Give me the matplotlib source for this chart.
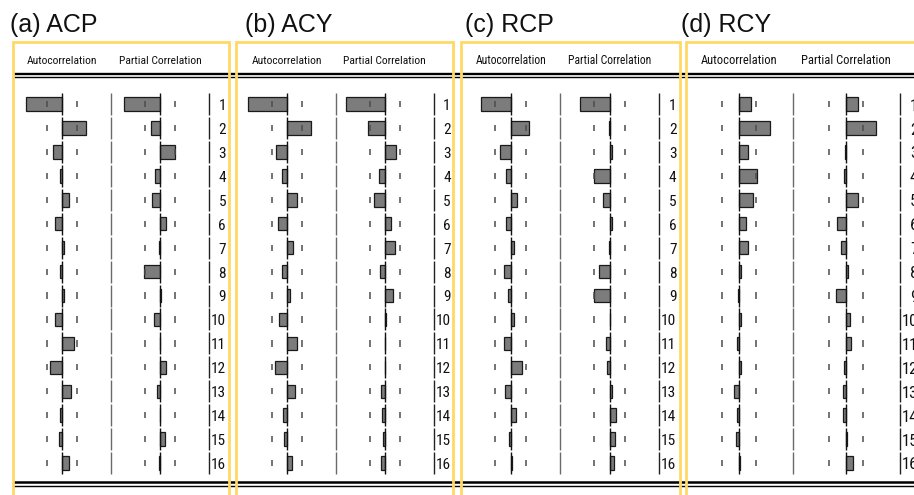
import numpy as np
import matplotlib
matplotlib.use("Agg")
import matplotlib.pyplot as plt
from matplotlib import font_manager as fm

# ---- data: correlograms (lags 1..16) ----
lags = np.arange(1, 17)
n_obs = 42
bound = 2 / np.sqrt(n_obs)

titles = ["(a) ACP", "(b) ACY", "(c) RCP", "(d) RCY"]

acf_acp = [-0.73, 0.49, -0.19, -0.05, 0.15, -0.14, 0.05, -0.04,
           0.05, -0.14, 0.24, -0.24, 0.18, -0.04, -0.07, 0.15]
pacf_acp = [-0.73, -0.19, 0.30, -0.11, -0.16, 0.12, -0.02, -0.32,
            0.02, -0.13, 0.01, 0.13, -0.06, -0.01, 0.10, -0.02]

acf_acy = [-0.80, 0.49, -0.21, -0.10, 0.20, -0.18, 0.13, -0.09,
           0.07, -0.15, 0.20, -0.24, 0.16, -0.08, -0.05, 0.10]
pacf_acy = [-0.79, -0.35, 0.24, -0.11, -0.21, 0.12, 0.20, -0.09,
            0.16, 0.03, 0.01, 0.01, -0.07, -0.05, -0.04, -0.08]

acf_rcp = [-0.61, 0.36, -0.21, -0.09, 0.12, -0.09, 0.07, -0.13,
           -0.05, 0.07, -0.13, 0.22, -0.11, 0.10, -0.03, 0.02]
pacf_rcp = [-0.61, -0.02, 0.05, -0.32, -0.13, 0.05, -0.01, -0.22,
            -0.31, 0.01, -0.07, -0.05, 0.05, 0.13, 0.11, 0.09]

acf_rcy = [0.22, 0.585, 0.17, 0.34, 0.26, 0.13, 0.17, 0.03,
           -0.01, 0.04, -0.04, 0.04, -0.09, -0.04, -0.06, 0.01]
pacf_rcy = [0.22, 0.57, -0.02, -0.04, 0.22, -0.16, -0.09, 0.03,
            -0.19, 0.07, 0.09, -0.04, -0.06, -0.06, 0.01, 0.14]

acf_sets = [acf_acp, acf_acy, acf_rcp, acf_rcy]
pacf_sets = [pacf_acp, pacf_acy, pacf_rcp, pacf_rcy]

col_headers = ["Autocorrelation", "Partial Correlation"]

# ---- layout (pixels) ----
W, H = 914, 495
col_left = [13.0, 237.7, 461.2, 685.5]     # left edge of the ACF column
col_pitch = [98.0, 98.0, 99.0, 107.0]      # width of one column
box_left = [12.8, 235.5, 461.0, 685.5]
box_right = [229.0, 453.0, 680.0, None]
title_x = [10.0, 245.0, 465.0, 681.0]
box_top = 42.0
row_top, row_bottom = 92.2, 475.0

YELLOW = "#FFD966"
BAR = "#7c7c7c"


# pick a narrow sans face for the table text, if one is installed
def pick_narrow():
    entries = fm.fontManager.ttflist
    names = {f.name for f in entries}
    for nm in ("Liberation Sans Narrow", "Arial Narrow", "Roboto Condensed",
               "Open Sans Condensed", "Noto Sans Condensed"):
        if nm in names:
            return dict(family=nm)
    for f in entries:
        if (f.stretch in ("condensed", "semi-condensed") and f.style == "normal"
                and "Mono" not in f.name and "Serif" not in f.name):
            return dict(family=f.name, stretch=f.stretch)
    return dict(family="Liberation Sans")


narrow = pick_narrow()

fig = plt.figure(figsize=(W / 100, H / 100), dpi=100)
renderer = fig.canvas.get_renderer()


def fit_size(text, target_px, max_pt):
    t = fig.text(0, 0, text, fontsize=10, **narrow)
    w = t.get_window_extent(renderer).width
    t.remove()
    return min(10 * target_px / w, max_pt)


head_pt = fit_size("Autocorrelation", 70, 11)
lag_pt = fit_size("16", 15, 11)

bg = fig.add_axes([0, 0, 1, 1])
bg.set_xlim(0, W)
bg.set_ylim(H, 0)
bg.axis("off")

# double rules above and below the table body
bg.hlines([73.5], 13, W, color="black", lw=1.7, zorder=1)
bg.hlines([77.4], 13, W, color="black", lw=1.0, zorder=1)
bg.hlines([482.3], 13, W, color="black", lw=1.8, zorder=1)
bg.hlines([485.6], 13, W, color="black", lw=1.0, zorder=1)


def fx(x):
    return x / W


def row_marks(ax, x, half, **kw):
    ax.vlines(np.full(lags.shape, x, dtype=float), lags - half, lags + half, **kw)


for i in range(4):
    L, p = col_left[i], col_pitch[i]
    # yellow frame (open at the bottom)
    right = box_right[i] if box_right[i] is not None else W + 5
    bg.plot([box_left[i], box_left[i], right, right], [H + 5, box_top, box_top, H + 5],
            color=YELLOW, lw=2.0, solid_joinstyle="miter", zorder=3)
    bg.text(title_x[i], 31.7, titles[i], fontsize=18, family="Liberation Sans",
            va="baseline", ha="left", color="#111111")

    scale = p / 98.0
    for k, (vals, head) in enumerate(zip([acf_sets[i], pacf_sets[i]], col_headers)):
        ax = fig.add_axes([fx(L + k * p), 1 - row_bottom / H, p / W, (row_bottom - row_top) / H])
        ax.set_xlim(-1, 1)
        ax.set_ylim(16.5, 0.5)
        ax.axis("off")
        ax.barh(lags, vals, height=0.56, color=BAR, edgecolor="#1a1a1a", linewidth=0.9, zorder=2)
        row_marks(ax, 0.0, 0.46, color="#111111", lw=1.0, zorder=3)
        for b in (-bound, bound):
            row_marks(ax, b, 0.13, color="#4d4d4d", lw=1.1, zorder=3)
        sep_color = "#6a6a6a" if k == 0 else "#222222"
        row_marks(ax, 1.0, 0.46, color=sep_color, lw=1.0, clip_on=False, zorder=3)
        bg.text(L + k * p + p / 2, 64.5, head, fontsize=head_pt * scale, va="baseline",
                ha="center", color="#111111", **narrow)
        if k == 1:
            for lag in lags:
                ax.text(1.347, lag + 0.08, str(lag), fontsize=lag_pt * scale, ha="right",
                        va="center", clip_on=False, color="#111111", **narrow)

fig.savefig("out.png", dpi=100)
